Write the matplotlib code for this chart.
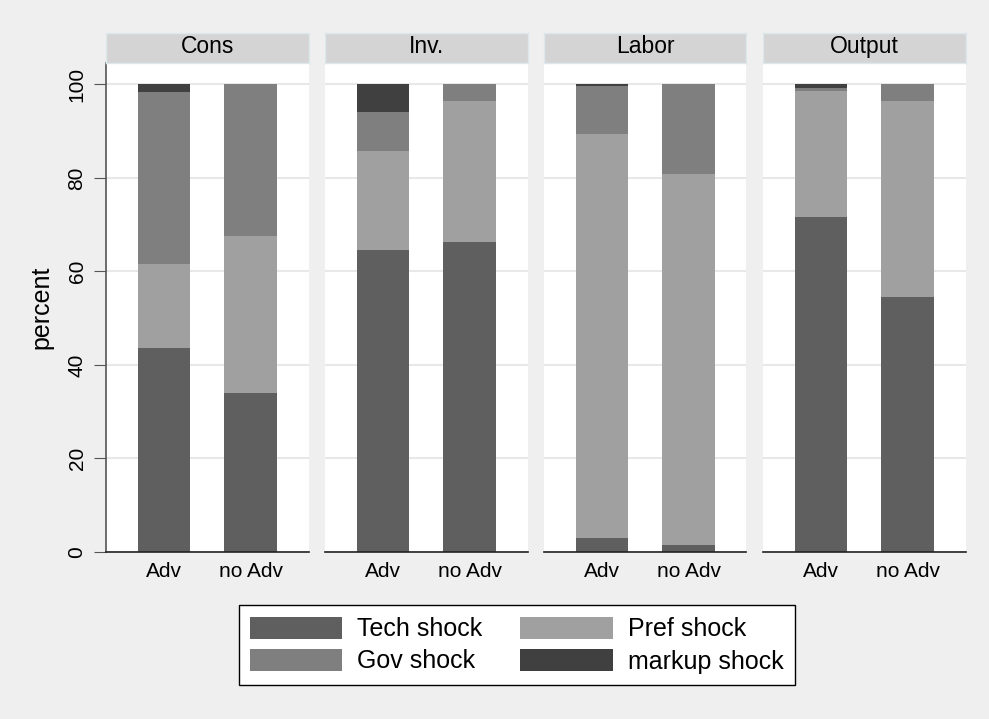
import matplotlib.pyplot as plt
import numpy as np
from matplotlib.patches import Patch

### DATA ###
panels = ['Cons', 'Inv.', 'Labor', 'Output']
groups = ['Adv', 'no Adv']
shocks = ['Tech shock', 'Pref shock', 'Gov shock', 'markup shock']

# percent shares, one list per shock: [Cons Adv, Cons noAdv, Inv Adv, Inv noAdv, ...]
tech = [43.6, 34.1, 64.6, 66.3, 2.9, 1.5, 71.6, 54.5]
pref = [17.9, 33.5, 21.2, 30.2, 86.5, 79.3, 27.0, 41.9]
gov = [36.8, 32.4, 8.3, 3.5, 10.3, 19.2, 0.7, 3.6]
markup = [1.7, 0.0, 5.9, 0.0, 0.3, 0.0, 0.7, 0.0]

colors = ['#5f5f5f', '#a0a0a0', '#7f7f7f', '#404040']
bg = '#efefef'

plt.rcParams['font.family'] = ['Liberation Sans', 'DejaVu Sans']

W, H = 989, 719
fig = plt.figure(figsize=(W / 100, H / 100), dpi=100, facecolor=bg)

series = [tech, pref, gov, markup]
x = np.arange(len(groups))

# panel geometry in pixels
lefts = [106, 325, 544, 763]
pw = 202.5
top_px, bot_px = 63.3, 552
strip_top = 32.7

for i, name in enumerate(panels):
    ax = fig.add_axes([lefts[i] / W, (H - bot_px) / H, pw / W, (bot_px - top_px) / H])
    ax.set_facecolor('white')
    bottom = np.zeros(len(groups))
    for s, c in zip(series, colors):
        vals = np.array(s[2 * i:2 * i + 2])
        ax.bar(x, vals, width=0.61, bottom=bottom, color=c, zorder=2)
        bottom += vals
    ax.set_xlim(-0.67, 1.67)
    ax.set_ylim(0, 104.5)
    ax.set_yticks([0, 20, 40, 60, 80, 100])
    ax.yaxis.grid(True, color='#e8e8e8', linewidth=1.5, zorder=0)
    ax.set_axisbelow(True)
    ax.set_xticks(x)
    ax.set_xticklabels(groups, fontsize=15)
    ax.tick_params(axis='x', length=0, pad=7)
    for sp in ['top', 'right']:
        ax.spines[sp].set_visible(False)
    ax.spines['bottom'].set_color('#222222')
    ax.spines['bottom'].set_linewidth(1.2)
    if i == 0:
        ax.spines['left'].set_color('#555555')
        ax.spines['left'].set_linewidth(1.2)
        ax.tick_params(axis='y', length=9, color='#555555', labelsize=15, pad=5)
        for lab in ax.get_yticklabels():
            lab.set_rotation(90)
            lab.set_va('center')
        ax.set_ylabel('percent', fontsize=18, labelpad=10)
    else:
        ax.spines['left'].set_visible(False)
        ax.tick_params(axis='y', left=False, labelleft=False)

    # strip header
    sax = fig.add_axes([lefts[i] / W, (H - top_px) / H, pw / W, (top_px - strip_top) / H])
    sax.set_facecolor('#d4d4d4')
    sax.set_xticks([])
    sax.set_yticks([])
    for sp in sax.spines.values():
        sp.set_color('#dde8ec')
        sp.set_linewidth(1)
    sax.text(0.5, 0.62, name, ha='center', va='center_baseline', fontsize=16.5,
             transform=sax.transAxes)

handles = [Patch(facecolor=c, edgecolor='none') for c in colors]
order = [0, 2, 1, 3]
leg = fig.legend([handles[k] for k in order], [shocks[k] for k in order],
                 loc='center', bbox_to_anchor=(516.5 / W, (H - 645) / H), ncol=2,
                 fontsize=18, frameon=True, fancybox=False, edgecolor='black',
                 framealpha=1, handlelength=3.7, handleheight=1.0, columnspacing=1.5,
                 handletextpad=0.6, borderpad=0.45, labelspacing=0.3,
                 borderaxespad=0)
leg.get_frame().set_linewidth(1.0)

fig.savefig('out.png', dpi=100, facecolor=bg)
